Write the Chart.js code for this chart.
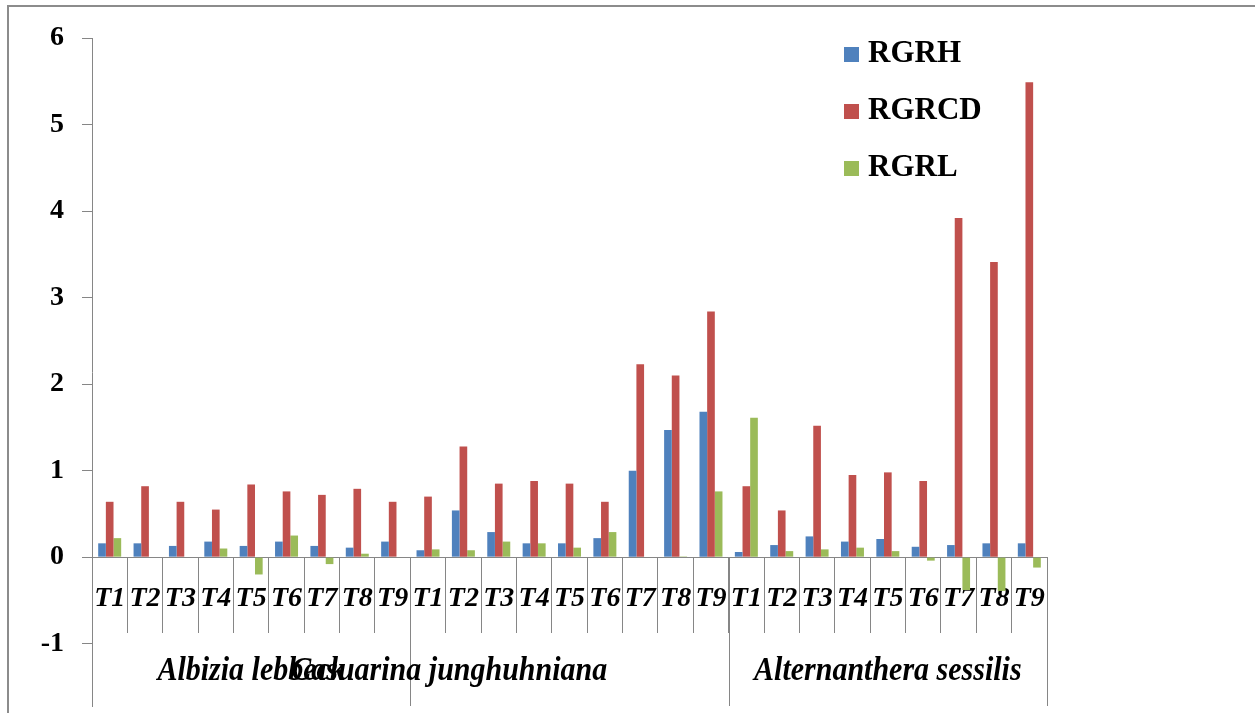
<!DOCTYPE html>
<html>
<head>
<meta charset="utf-8">
<script src="https://cdn.jsdelivr.net/npm/chart.js@4.4.1/dist/chart.umd.min.js"></script>
<style>
  body { margin: 0; background: #fff; }
  canvas { display: block; }
</style>
</head>
<body>
<canvas id="rgrChart" width="1255" height="713"></canvas>
<script>
// treatments, repeated for each species
const treatments = ["T1", "T2", "T3", "T4", "T5", "T6", "T7", "T8", "T9"];
const species = ["Albizia lebbeck", "Casuarina junghuhniana", "Alternanthera sessilis"];
const labels = species.flatMap(() => treatments);

const rgrh = [0.16, 0.16, 0.13, 0.18, 0.13, 0.18, 0.13, 0.11, 0.18,
              0.08, 0.54, 0.29, 0.16, 0.16, 0.22, 1.00, 1.47, 1.68,
              0.06, 0.14, 0.24, 0.18, 0.21, 0.12, 0.14, 0.16, 0.16];
const rgrcd = [0.64, 0.82, 0.64, 0.55, 0.84, 0.76, 0.72, 0.79, 0.64,
               0.70, 1.28, 0.85, 0.88, 0.85, 0.64, 2.23, 2.10, 2.84,
               0.82, 0.54, 1.52, 0.95, 0.98, 0.88, 3.92, 3.41, 5.49];
const rgrl = [0.22, 0, 0, 0.10, -0.20, 0.25, -0.08, 0.04, 0,
              0.09, 0.08, 0.18, 0.16, 0.11, 0.29, 0, 0.01, 0.76,
              1.61, 0.07, 0.09, 0.11, 0.07, -0.04, -0.38, -0.39, -0.12];

const yTicks = [-1, 0, 1, 2, 3, 4, 5, 6];

const axisColor = "#868686";
const serif = "'Liberation Serif', 'Times New Roman', serif";

// frame, species separators + names, legend on the plot
const extras = {
  id: "extras",
  afterDraw(chart) {
    const { ctx, chartArea, scales: { x, y } } = chart;
    const y0 = y.getPixelForValue(0);
    const per = treatments.length;
    ctx.save();

    // outer frame
    ctx.fillStyle = "#8c8c8c";
    ctx.fillRect(7, 5, 1255, 2);
    ctx.fillRect(7, 5, 2, 713);

    // species separators
    ctx.strokeStyle = axisColor;
    ctx.lineWidth = 1;
    for (let g = 1; g <= species.length; g++) {
      const xb = Math.round(x.getPixelForValue(g * per - 0.5)) + 0.5;
      ctx.beginPath();
      ctx.moveTo(xb, y0);
      ctx.lineTo(xb, chartArea.bottom);
      ctx.stroke();
    }

    // species names
    const shift = [0, -3.4, 0];
    ctx.fillStyle = "#000";
    ctx.font = "italic bold 30px " + serif;
    ctx.textAlign = "center";
    ctx.textBaseline = "alphabetic";
    species.forEach((name, g) => {
      const cx = x.getPixelForValue(g * per + (per - 1) / 2 + shift[g]);
      ctx.save();
      ctx.translate(cx, y0 + 123);
      ctx.scale(1, 1.1);
      ctx.fillText(name, 0, 0);
      ctx.restore();
    });

    // legend
    ctx.font = "bold 31px " + serif;
    ctx.textAlign = "left";
    ctx.textBaseline = "middle";
    chart.data.datasets.forEach((ds, i) => {
      const ly = chartArea.top + 16 + i * 57;
      ctx.fillStyle = ds.backgroundColor;
      ctx.fillRect(chartArea.right - 203, ly - 7, 15, 15);
      ctx.fillStyle = "#000";
      ctx.fillText(ds.label, chartArea.right - 179, ly);
    });
    ctx.restore();
  }
};

new Chart(document.getElementById("rgrChart"), {
  type: "bar",
  data: {
    labels: labels,
    datasets: [
      { label: "RGRH", data: rgrh, backgroundColor: "#4F81BD" },
      { label: "RGRCD", data: rgrcd, backgroundColor: "#C0504D" },
      { label: "RGRL", data: rgrl, backgroundColor: "#9BBB59" }
    ]
  },
  options: {
    responsive: false,
    animation: false,
    categoryPercentage: 0.65,
    barPercentage: 1.0,
    layout: { padding: { left: 10, top: 38, right: 208, bottom: 7 } },
    plugins: {
      legend: { display: false },
      tooltip: { enabled: false }
    },
    scales: {
      x: {
        position: { y: 0 },
        afterFit(scale) {
          scale.height = 0;
          scale.paddingTop = 0;
          scale.paddingBottom = 0;
        },
        grid: {
          offset: true,
          drawOnChartArea: false,
          drawTicks: true,
          tickLength: 75,
          color: axisColor
        },
        border: { color: axisColor },
        ticks: {
          autoSkip: false,
          maxRotation: 0,
          minRotation: 0,
          padding: -50,
          color: "#000",
          font: { family: serif, size: 28, style: "italic", weight: "bold" }
        }
      },
      y: {
        min: -1.72,
        max: 6,
        afterFit(scale) {
          scale.width = 82;
          scale.paddingTop = 0;
          scale.paddingBottom = 0;
        },
        afterBuildTicks(scale) {
          scale.ticks = yTicks.map(v => ({ value: v }));
        },
        grid: {
          drawOnChartArea: false,
          drawTicks: true,
          tickLength: 10,
          color: axisColor
        },
        border: { color: axisColor },
        ticks: {
          padding: 18,
          color: "#000",
          font: { family: serif, size: 28, weight: "bold" }
        }
      }
    }
  },
  plugins: [extras]
});
</script>
</body>
</html>
